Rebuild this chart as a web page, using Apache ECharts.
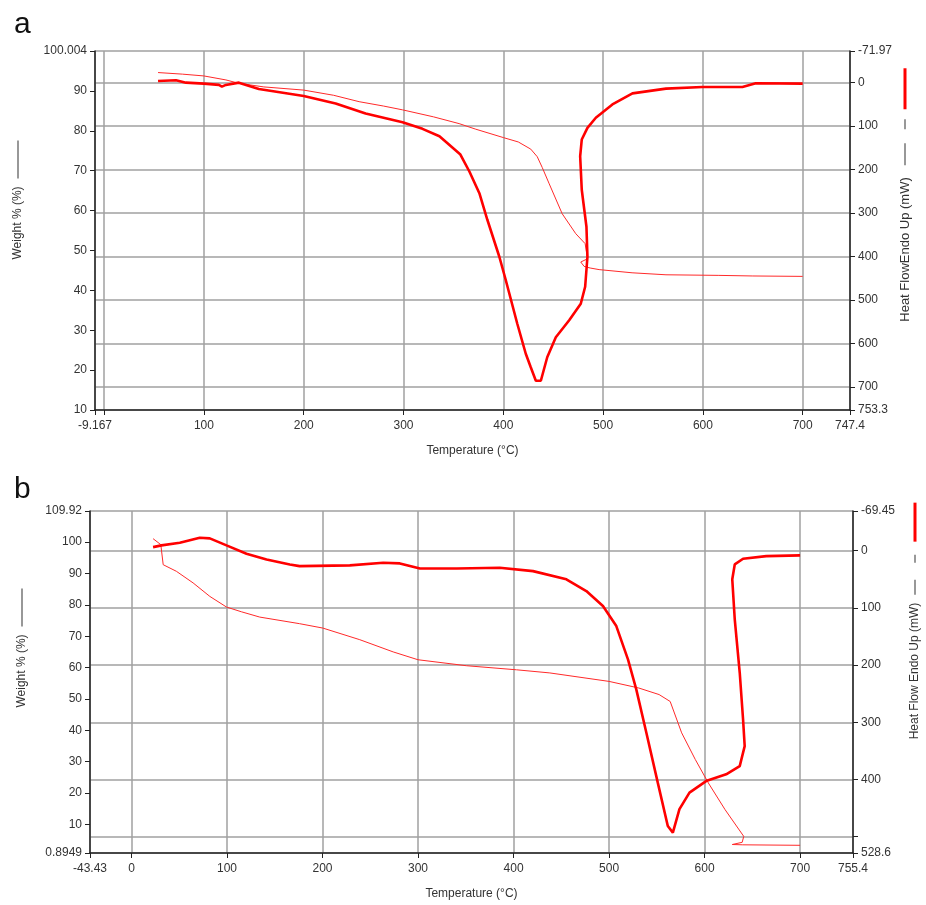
<!DOCTYPE html>
<html>
<head>
<meta charset="utf-8">
<script src="https://cdn.jsdelivr.net/npm/echarts@6/dist/echarts.min.js"></script>
<style>
html,body{margin:0;padding:0;background:#fff;}
#chart{width:926px;height:905px;}
</style>
</head>
<body>
<div id="chart"></div>
<script>
// ---- Panel a: weight % (thin line, left axis) ----
var tempA_weight = [54, 78.5, 100, 122, 135, 160, 200, 230, 255.5, 280, 299, 330, 355.7, 372.4, 400, 415, 427.5, 434, 439, 446, 459, 472.6, 482, 484.3, 477.6, 481, 487, 496, 529, 563, 616, 650, 700];
var weightA      = [94.6, 94.2, 93.75, 92.75, 91.9, 91.0, 90.2, 88.9, 87.3, 86.2, 85.25, 83.5, 81.8, 80.4, 78.3, 77.2, 75.4, 73.5, 70.8, 66.7, 59.2, 54.2, 51.7, 47.9, 47.1, 46.0, 45.6, 45.2, 44.4, 43.9, 43.75, 43.6, 43.5];
// ---- Panel a: heat flow (thick line, right axis) ----
var tempA_heat = [54, 72, 82, 100, 115, 118, 122, 135, 155, 200, 232, 262, 299, 319, 336, 357, 366, 376, 384, 396, 402.5, 414, 422.5, 427.5, 432.6, 437.6, 444, 452.6, 466, 477.6, 482, 484.3, 483.3, 478.6, 477, 478.6, 484.3, 492.7, 509.3, 529.4, 563, 599.5, 639.6, 653, 700];
var heatA      = [-3, -4.6, 0.8, 3, 6, 9.9, 6, 0.8, 15.5, 31.5, 48.5, 71.6, 91.6, 107, 124, 166, 205, 255, 316, 401, 455, 555, 624, 655, 686, 686, 632, 586, 547, 509, 470, 401, 332, 247, 170, 131.6, 104.7, 81.5, 50.8, 25.4, 14.5, 10.8, 10.8, 2.3, 3];
// ---- Panel b: weight % (thin line, left axis) ----
var tempB_weight = [22.6, 30.7, 33.2, 47, 64.5, 82, 99.5, 115, 134.3, 176, 200.3, 239, 274, 300, 350.6, 403, 438, 500, 531, 552.4, 564, 576, 590.3, 604, 621.5, 641, 639.4, 629, 640, 700];
var weightB      = [101.1, 99.2, 92.8, 90.7, 87, 82.7, 79.3, 77.8, 76.1, 74, 72.6, 68.9, 65, 62.5, 60.6, 59.3, 58.3, 55.6, 53.5, 51.4, 49.2, 39.2, 30.7, 23.2, 14.7, 6.2, 4.3, 3.6, 3.5, 3.35];
// ---- Panel b: heat flow (thick line, right axis) ----
var tempB_heat = [22.6, 31.4, 50.6, 71.5, 82, 99.5, 120.4, 141.4, 165.8, 176, 228.6, 263.5, 281, 302, 340.6, 385.5, 420.4, 455.3, 476.2, 493.6, 507.6, 519.8, 528.5, 539, 551, 561.5, 566.8, 573.7, 584.2, 601.6, 622.6, 636.8, 642, 640.3, 636.8, 631.6, 629, 631.6, 640.3, 664.6, 700];
var heatB      = [-6.3, -9.3, -14, -22.7, -21.5, -9.3, 5.2, 15.2, 24, 26.9, 25.7, 21, 22.2, 31, 31, 29.7, 35.7, 50, 70.6, 96.8, 131.8, 190, 242.5, 318, 405.6, 481.5, 493, 452, 423, 402.8, 391, 376.6, 341.6, 295, 213, 120, 50, 24, 14, 9.4, 8.2];

// ---- Axis extents (as printed on the axes) ----
var xExtentA = [-9.167, 747.4];
var weightExtentA = [10, 100.004];
var heatExtentA = [-71.97, 753.3];
var xExtentB = [-43.43, 755.4];
var weightExtentB = [0.8949, 109.92];
var heatExtentB = [-69.45, 528.6];

var panelLabels = ['a', 'b'];
var xName = 'Temperature (\u00B0C)';
var weightName = 'Weight % (%)';
var heatNameA = 'Heat FlowEndo Up (mW)';
var heatNameB = 'Heat Flow Endo Up (mW)';

function pairs(xs, ys) { return xs.map(function (x, i) { return [x, ys[i]]; }); }

var FONT = 'Liberation Sans, Arial, sans-serif';
var TXT = '#333';
var AX = '#222';
var GRID = '#a0a0a0';

function fmt(ext, frac) {
  var span = ext[1] - ext[0];
  return function (v) {
    var isEnd = Math.abs(v - ext[0]) < 1e-9 || Math.abs(v - ext[1]) < 1e-9;
    if (!isEnd && (Math.abs(v - ext[0]) < frac * span || Math.abs(v - ext[1]) < frac * span)) return '';
    return String(+(+v).toFixed(4));
  };
}

function xAxisOpt(idx, ext) {
  return {
    type: 'value', gridIndex: idx, min: ext[0], max: ext[1], splitNumber: 8,
    name: xName, nameLocation: 'middle', nameGap: 35,
    nameTextStyle: { color: TXT, fontFamily: FONT, fontSize: 12 },
    axisLine: { show: true, onZero: false, lineStyle: { color: AX, width: 1.5 } },
    axisTick: { show: true, length: 5, lineStyle: { color: AX } },
    axisLabel: { color: TXT, fontFamily: FONT, fontSize: 12, margin: 10, formatter: fmt(ext, 0.051), showMinLabel: true, showMaxLabel: true },
    splitLine: { show: true, lineStyle: { color: GRID, width: 1.5 } }
  };
}
function yLeftOpt(idx, ext, split) {
  return {
    type: 'value', gridIndex: idx, position: 'left', min: ext[0], max: ext[1], splitNumber: split,
    axisLine: { show: true, onZero: false, lineStyle: { color: AX, width: 1.5 } },
    axisTick: { show: true, length: 5, lineStyle: { color: AX } },
    axisLabel: { color: TXT, fontFamily: FONT, fontSize: 12, margin: 8, formatter: fmt(ext, 0.051), showMinLabel: true, showMaxLabel: true },
    splitLine: { show: false }
  };
}
function yRightOpt(idx, ext, split) {
  return {
    type: 'value', gridIndex: idx, position: 'right', inverse: true, min: ext[0], max: ext[1], splitNumber: split,
    axisLine: { show: true, onZero: false, lineStyle: { color: AX, width: 1.5 } },
    axisTick: { show: true, length: 5, lineStyle: { color: AX } },
    axisLabel: { color: TXT, fontFamily: FONT, fontSize: 12, margin: 8, formatter: fmt(ext, 0.051), showMinLabel: true, showMaxLabel: true },
    splitLine: { show: true, lineStyle: { color: GRID, width: 1.5 } }
  };
}

var richLeft = { l: { width: 38, height: 1, backgroundColor: '#333' }, g: { width: 8 } };
var richRightA = {
  g1: { width: 12 }, g2: { width: 14 }, g3: { width: 10 },
  l: { width: 22, height: 1, backgroundColor: '#333' },
  s: { width: 10, height: 1, backgroundColor: '#333' },
  r: { width: 41, height: 3, backgroundColor: '#ff0000' }
};
var richRightB = {
  g1: { width: 8 }, g2: { width: 17 }, g3: { width: 13 },
  l: { width: 15, height: 1, backgroundColor: '#333' },
  s: { width: 8, height: 1, backgroundColor: '#333' },
  r: { width: 39, height: 3, backgroundColor: '#ff0000' }
};
var rightTail = '{g1| }{l| }{g2| }{s| }{g3| }{r| }';
function vText(x, y, text, rich, size) {
  return {
    type: 'text', x: x, y: y, rotation: Math.PI / 2,
    style: { text: text, rich: rich, fill: TXT, font: size + 'px ' + FONT, align: 'center', verticalAlign: 'middle', textAlign: 'center', textVerticalAlign: 'middle' }
  };
}

var option = {
  backgroundColor: '#fff',
  animation: false,
  title: [
    { text: panelLabels[0], left: 9, top: 5, textStyle: { fontSize: 30, fontWeight: 'normal', color: '#111', fontFamily: FONT } },
    { text: panelLabels[1], left: 9, top: 470, textStyle: { fontSize: 30, fontWeight: 'normal', color: '#111', fontFamily: FONT } }
  ],
  grid: [
    { left: 95, right: 76, top: 51, height: 359 },
    { left: 90, right: 73, top: 511, height: 342 }
  ],
  xAxis: [xAxisOpt(0, xExtentA), xAxisOpt(1, xExtentB)],
  yAxis: [
    yLeftOpt(0, weightExtentA, 9),
    yRightOpt(0, heatExtentA, 8),
    yLeftOpt(1, weightExtentB, 11),
    yRightOpt(1, heatExtentB, 6)
  ],
  graphic: [
    vText(18, 200, weightName + '{g| }{l| }', richLeft, 12),
    vText(22, 648, weightName + '{g| }{l| }', richLeft, 12),
    vText(905, 195, heatNameA + rightTail, richRightA, 13),
    vText(915, 621, heatNameB + rightTail, richRightB, 12)
  ],
  series: [
    { type: 'line', xAxisIndex: 0, yAxisIndex: 0, data: pairs(tempA_weight, weightA), showSymbol: false, lineStyle: { color: '#ff2a2a', width: 1 }, z: 3 },
    { type: 'line', xAxisIndex: 0, yAxisIndex: 1, data: pairs(tempA_heat, heatA), showSymbol: false, lineStyle: { color: '#ff0000', width: 2.6 }, z: 4 },
    { type: 'line', xAxisIndex: 1, yAxisIndex: 2, data: pairs(tempB_weight, weightB), showSymbol: false, lineStyle: { color: '#ff2a2a', width: 1 }, z: 3 },
    { type: 'line', xAxisIndex: 1, yAxisIndex: 3, data: pairs(tempB_heat, heatB), showSymbol: false, lineStyle: { color: '#ff0000', width: 2.6 }, z: 4 }
  ]
};
var chart = echarts.init(document.getElementById('chart'), null, { renderer: 'canvas' });
chart.setOption(option);
</script>
</body>
</html>
